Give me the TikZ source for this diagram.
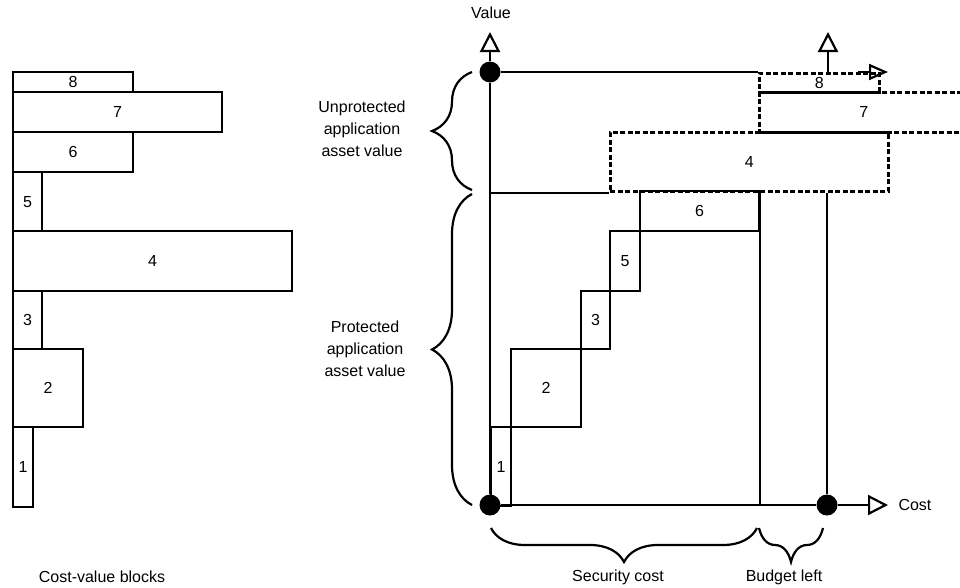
\documentclass[tikz,border=0pt]{standalone}
\usepackage{fontspec}
\setmainfont{Liberation Sans}
\usetikzlibrary{arrows.meta,decorations.pathreplacing}
\begin{document}
\begin{tikzpicture}[x=1pt,y=-1pt,
  every node/.style={font=\fontsize{16}{22}\selectfont},
  ln/.style={line width=2.2pt},
  blk/.style n args={2}{draw,line width=2.2pt,rectangle,inner sep=0pt,anchor=north west,minimum width=#1pt,minimum height=#2pt},
  dbox/.style n args={2}{draw,line width=2.6pt,dash pattern=on 5pt off 2.5pt,rectangle,inner sep=0pt,anchor=north west,minimum width=#1pt,minimum height=#2pt},
  dot/.style={circle,fill=black,minimum size=21pt,inner sep=0pt},
  openarrow/.style={-{Triangle[open,length=20pt,width=20pt]}},
  smallarrow/.style={-{Triangle[open,length=19pt,width=16pt]}},
  brc/.style={line width=2.2pt,decorate,decoration={brace,amplitude=#1}}
]
\useasboundingbox (0,0) rectangle (960,587);
\clip (0,0) rectangle (960,587);

% left stack of cost-value blocks
\node[blk={120}{20}] (l8) at (12,71) {8};
\node[blk={209}{40}] (l7) at (12,91) {7};
\node[blk={120}{40}] (l6) at (12,131) {6};
\node[blk={29}{59}] (l5) at (12,171) {5};
\node[blk={279}{60}] (l4) at (12,230) {4};
\node[blk={29}{58}] (l3) at (12,290) {3};
\node[blk={70}{78}] (l2) at (12,348) {2};
\node[blk={20}{80}] (l1) at (12,426) {1};
\node (lcap) at (102,577) {Cost-value blocks};

% chart blocks
\node[blk={20}{79}] (c1) at (490,426) {1};
\node[blk={70}{78}] (c2) at (510,348) {2};
\node[blk={29}{58}] (c3) at (580,290) {3};
\node[blk={30}{60}] (c5) at (609,230) {5};
\node[blk={119}{40}] (c6) at (639,190) {6};
\node[dbox={278}{59}] (c4) at (609,131) {4};
\node[dbox={209}{40}] (c7) at (758,91) {7};
\node[dbox={120}{19}] (c8) at (758,72) {8};

% axes points
\node[dot] (O) at (490,505) {};
\node[dot] (T) at (490,72) {};
\node[dot] (B) at (827,505) {};
\coordinate (valtip) at (490,32);
\coordinate (costtip) at (888,505);
\coordinate (uptip) at (828,32);
\coordinate (rstart) at (858,72);
\coordinate (rtip) at (888,72);

\draw[ln] (O) -- (T);
\draw[ln] (O) -- (B);
\draw[ln,openarrow] (T) -- (valtip);
\draw[ln,openarrow] (B) -- (costtip);
\draw[ln] (T) -- (c8.north west);
\draw[ln] (c4.south west -| O) -- (c4.south west);
\draw[ln] (c6.north east) -- (c6.north east |- O);
\draw[ln] (B) -- (B |- c4.south);
\draw[ln,openarrow] (uptip |- T) -- (uptip);
\draw[ln,smallarrow] (rstart) -- (rtip);

\node (vallbl) at (491,13) {Value};
\node[anchor=west] (costlbl) at (895,505) {Cost};

% braces
\draw[brc=40pt] (472,190) -- (472,72);
\draw[brc=40pt] (472,505) -- (472,194);
\draw[brc=34pt] (757,528) -- (491,528);
\draw[brc=34pt] (823,528) -- (759,528);

\node[align=center] (unp) at (362,129) {Unprotected\\application\\asset value};
\node[align=center] (prot) at (365,349) {Protected\\application\\asset value};
\node (sec) at (618,577) {Security cost};
\node (bud) at (784,577) {Budget left};
\end{tikzpicture}
\end{document}
